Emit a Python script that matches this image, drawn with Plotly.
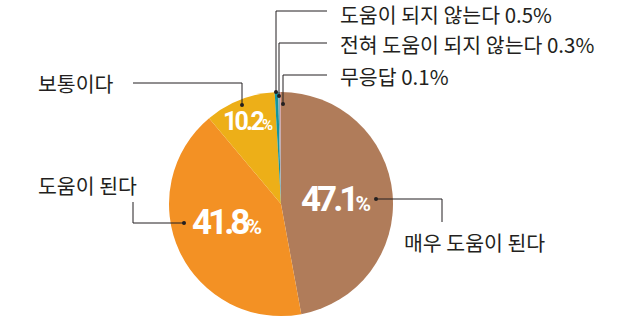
import math
import plotly.graph_objects as go

labels = ["매우 도움이 된다", "도움이 된다", "보통이다", "도움이 되지 않는다", "전혀 도움이 되지 않는다", "무응답"]
values = [47.1, 41.8, 10.2, 0.5, 0.3, 0.1]
colors = ["#B07C5A", "#F39124", "#EDAF18", "#14959E", "#8AA9B8", "#D9837F"]

W, H = 635, 320
CX, CY, R = 281, 204, 112

fig = go.Figure()
fig.add_trace(go.Pie(
    labels=labels, values=values, sort=False, direction="clockwise", rotation=0,
    marker=dict(colors=colors, line=dict(width=0)),
    textinfo="none", hoverinfo="label+percent", showlegend=False,
    domain=dict(x=[(CX - R) / W, (CX + R) / W], y=[(H - CY - R) / H, (H - CY + R) / H]),
))

total = sum(values)
cum = 0
mids = []
for v in values:
    mids.append((cum + v / 2) / total * 360)
    cum += v

def pt(angle, frac):
    a = math.radians(angle)
    return CX + R * frac * math.sin(a), CY - R * frac * math.cos(a)

def px(x, y):
    return x / W, 1 - y / H

pct_font = "Roboto, sans-serif"
pct_style = [(0.49, 35, 0, -4), (0.51, 35, 6, -4), (0.79, 25, 0, -2.8)]
for i, (frac, size, dang, ls) in enumerate(pct_style):
    x, y = pt(mids[i] + dang, frac)
    ax, ay = px(x, y)
    fig.add_annotation(
        x=ax, y=ay, xref="paper", yref="paper", showarrow=False,
        xanchor="center", yanchor="middle",
        text=(f"<b><span style='letter-spacing:{ls}px'>{values[i]}</span>"
              f"<span style='font-size:{int(size*0.62)}px'>%</span></b>"),
        font=dict(family=pct_font, size=size, color="white"),
    )

lab_font = dict(family="Noto Sans CJK KR, sans-serif", size=20.5, color="#231F20")
line_col = "#231F20"

def poly(points):
    path = "M " + " L ".join(f"{x/W},{1-y/H}" for x, y in points)
    fig.add_shape(type="path", path=path, xref="paper", yref="paper",
                  line=dict(color=line_col, width=1))

def dot(x, y):
    fig.add_shape(type="circle", xref="paper", yref="paper",
                  x0=(x - 2) / W, x1=(x + 2) / W, y0=1 - (y + 2) / H, y1=1 - (y - 2) / H,
                  fillcolor=line_col, line=dict(width=0))

def label(text, x, y, anchor="left"):
    ax, ay = px(x, y)
    fig.add_annotation(x=ax, y=ay, xref="paper", yref="paper", showarrow=False,
                       text=text, font=lab_font, xanchor=anchor, yanchor="middle",
                       borderpad=0)

# 매우 도움이 된다
poly([(376, 199), (442, 199), (442, 222)]); dot(376, 199)
label(labels[0], 403, 242)
# 도움이 된다
poly([(133, 202), (133, 223), (184, 223)]); dot(184, 223)
label(labels[1], 37, 185)
# 보통이다
poly([(133, 83), (242, 83), (242, 105)]); dot(242, 105)
label(labels[2], 37, 83)
# small slices
poly([(327, 11), (276, 11), (276, 92)]); dot(276, 92)
label(f"{labels[3]} {values[3]}%", 339, 14.5)
poly([(327, 43), (279, 43), (279, 96)]); dot(279, 96)
label(f"{labels[4]} {values[4]}%", 339, 44.5)
poly([(327, 75), (283, 75), (283, 104)]); dot(283, 104)
label(f"{labels[5]} {values[5]}%", 339, 76)

fig.update_layout(width=W, height=H, margin=dict(l=0, r=0, t=0, b=0),
                  paper_bgcolor="white", plot_bgcolor="white")
fig.write_html("out.html")
